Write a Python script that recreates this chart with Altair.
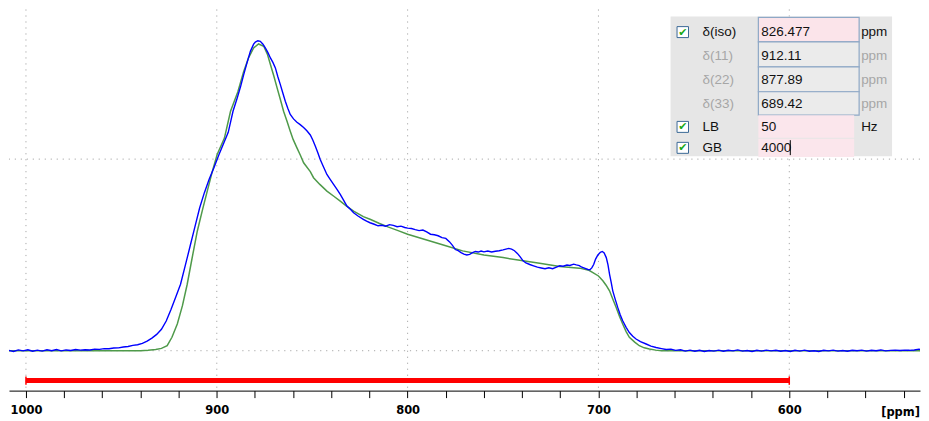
import altair as alt
import pandas as pd

# ---------------- data ----------------
blue_ppm = [1009.0, 1006.5, 1004.0, 1001.5, 999.0, 996.5, 994.0, 991.5, 989.0, 986.5, 984.0, 981.5,
            979.0, 976.5, 974.0, 971.5, 969.0, 966.5, 964.0, 961.5, 959.0, 956.5, 954.0, 951.5,
            949.0, 946.5, 944.0, 941.5, 939.0, 936.5, 934.0, 931.5, 929.0, 926.5, 924.0, 921.5,
            919.0, 916.5, 914.0, 911.5, 909.0, 906.5, 904.0, 901.5, 899.0, 896.5, 894.0, 891.5,
            889.3, 887.5, 885.9, 884.1, 882.4, 880.7, 879.8, 878.5, 877.2, 875.8, 874.5, 873.2,
            871.9, 870.6, 869.3, 868.0, 866.7, 865.4, 864.1, 862.8, 861.5, 859.8, 858.0, 856.3,
            854.5, 852.8, 851.0, 849.7, 848.4, 847.1, 845.8, 844.0, 842.3, 840.5, 838.8, 837.0,
            835.3, 833.5, 831.8, 830.0, 828.3, 826.0, 823.2, 821.5, 819.7, 817.5, 815.5, 813.5,
            811.5, 809.5, 807.5, 805.5, 803.5, 801.5, 800.0, 798.0, 796.0, 794.0, 792.0, 790.0,
            788.0, 786.0, 784.0, 782.0, 780.0, 778.0, 776.5, 775.0, 773.5, 772.0, 770.5, 769.0,
            767.5, 766.0, 764.5, 763.0, 761.5, 760.0, 758.0, 756.0, 754.0, 752.0, 750.0, 748.5,
            747.0, 745.5, 744.0, 742.5, 741.0, 739.5, 738.0, 736.0, 734.0, 732.0, 730.0, 728.0,
            726.0, 724.0, 722.0, 720.3, 718.5, 716.5, 715.0, 713.0, 711.6, 710.0, 709.0, 707.0,
            705.5, 704.5, 703.5, 702.5, 701.5, 700.3, 699.0, 698.0, 697.0, 695.9, 695.0, 694.2,
            693.3, 692.5, 691.2, 689.9, 688.6, 687.3, 685.5, 683.8, 682.0, 680.3, 678.0, 675.0,
            672.5, 669.8, 667.0, 664.5, 662.0, 659.5, 657.0, 654.5, 652.0, 649.5, 647.0, 644.5,
            642.0, 639.5, 637.0, 634.5, 632.0, 629.5, 627.0, 624.5, 622.0, 619.5, 617.0, 614.5,
            612.0, 609.5, 607.0, 604.5, 602.0, 599.5, 597.0, 594.5, 592.0, 589.5, 587.0, 584.5,
            582.0, 579.5, 577.0, 574.5, 572.0, 569.5, 567.0, 564.5, 562.0, 559.5, 557.0, 554.5,
            552.0, 549.5, 547.0, 544.5, 542.0, 539.5, 537.0, 534.5, 532.0, 529.5, 527.0]
blue_int = [0.002, -0.004, 0.004, -0.001, 0.005, -0.003, 0.003, -0.002, 0.005, 0.000, 0.006, -0.001,
            0.004, 0.001, 0.006, 0.003, 0.005, 0.004, 0.008, 0.007, 0.011, 0.010, 0.014, 0.015,
            0.019, 0.022, 0.028, 0.031, 0.038, 0.050, 0.066, 0.085, 0.112, 0.155, 0.215, 0.280,
            0.347, 0.445, 0.545, 0.645, 0.745, 0.825, 0.895, 0.955, 1.020, 1.080, 1.140, 1.250,
            1.319, 1.380, 1.441, 1.505, 1.5625, 1.600, 1.611, 1.618, 1.615, 1.600, 1.580, 1.556,
            1.528, 1.505, 1.476, 1.430, 1.389, 1.345, 1.302, 1.265, 1.233, 1.210, 1.192, 1.180,
            1.165, 1.148, 1.126, 1.100, 1.068, 1.035, 0.998, 0.958, 0.920, 0.893, 0.868, 0.842,
            0.816, 0.785, 0.755, 0.738, 0.720, 0.703, 0.686, 0.676, 0.668, 0.660, 0.652, 0.655,
            0.650, 0.658, 0.654, 0.647, 0.650, 0.643, 0.640, 0.638, 0.632, 0.627, 0.630, 0.620,
            0.608, 0.605, 0.600, 0.590, 0.586, 0.568, 0.550, 0.528, 0.522, 0.512, 0.504, 0.500,
            0.503, 0.512, 0.518, 0.515, 0.520, 0.516, 0.520, 0.515, 0.519, 0.522, 0.526, 0.530,
            0.534, 0.530, 0.522, 0.508, 0.490, 0.469, 0.458, 0.450, 0.443, 0.436, 0.432, 0.428,
            0.433, 0.428, 0.436, 0.443, 0.441, 0.447, 0.445, 0.452, 0.448, 0.444, 0.437, 0.430,
            0.424, 0.422, 0.432, 0.450, 0.478, 0.500, 0.514, 0.518, 0.510, 0.486, 0.448, 0.400,
            0.355, 0.3125, 0.268, 0.226, 0.188, 0.156, 0.122, 0.095, 0.075, 0.061, 0.047, 0.035,
            0.024, 0.017, 0.011, 0.006, 0.008, 0.002, 0.005, -0.002, 0.003, -0.003, 0.002, -0.004,
            0.001, -0.002, 0.003, -0.003, 0.002, -0.001, 0.004, -0.002, 0.001, -0.004, 0.002, -0.002,
            0.003, -0.001, 0.002, -0.003, 0.001, -0.004, 0.002, -0.002, 0.003, -0.003, 0.000, -0.004,
            0.002, -0.001, 0.003, -0.002, 0.001, -0.003, 0.002, 0.000, 0.003, -0.002, 0.002, 0.000,
            0.004, -0.001, 0.002, 0.003, 0.001, 0.003, 0.002, 0.004, 0.008, 0.003, 0.000]

green_ppm = [1009.0, 940.0, 936.0, 932.0, 929.0, 926.0, 923.5, 920.7, 918.0, 915.5, 913.0, 910.2,
             907.5, 905.0, 902.5, 899.8, 896.0, 892.8, 889.0, 885.9, 883.3, 880.7, 878.1, 875.4,
             873.5, 871.9, 870.0, 868.4, 866.5, 865.0, 863.2, 861.5, 860.0, 858.0, 856.2, 854.5,
             851.0, 849.3, 846.0, 842.3, 838.5, 835.3, 832.0, 828.3, 823.2, 819.7, 815.0, 810.0,
             805.0, 800.0, 790.0, 780.0, 771.2, 760.0, 750.0, 739.5, 730.0, 720.3, 709.9, 705.0,
             702.9, 700.0, 697.7, 696.0, 694.2, 692.5, 690.7, 689.0, 687.3, 685.5, 683.8, 681.0,
             678.6, 676.0, 673.3, 670.0, 667.0, 527.0]
green_int = [0.0, 0.0, 0.002, 0.006, 0.012, 0.026, 0.070, 0.139, 0.235, 0.347, 0.480, 0.625,
             0.735, 0.833, 0.930, 1.024, 1.110, 1.250, 1.350, 1.458, 1.530, 1.580, 1.601, 1.589,
             1.548, 1.494, 1.430, 1.372, 1.305, 1.250, 1.198, 1.146, 1.103, 1.059, 1.020, 0.981,
             0.935, 0.903, 0.868, 0.833, 0.805, 0.781, 0.755, 0.729, 0.700, 0.686, 0.665, 0.645,
             0.627, 0.608, 0.578, 0.548, 0.521, 0.500, 0.486, 0.469, 0.455, 0.440, 0.431, 0.420,
             0.408, 0.390, 0.365, 0.342, 0.3125, 0.270, 0.226, 0.180, 0.139, 0.100, 0.070, 0.045,
             0.026, 0.015, 0.009, 0.003, 0.0, 0.0]

grid_x = [1000, 900, 800, 700, 600]
grid_y = [0, 1]
bar_start, bar_end, bar_level = 1000, 600, -0.156
tick_values = [1000, 980, 960, 940, 920, 900, 880, 860, 840, 820, 800, 780, 760, 740, 720,
               700, 680, 660, 640, 620, 600, 580, 560, 540]

panel_labels = ["δ(iso)", "δ(11)", "δ(22)", "δ(33)", "LB", "GB"]
panel_values = ["826.477", "912.11", "877.89", "689.42", "50", "4000"]
panel_units = ["ppm", "ppm", "ppm", "ppm", "Hz", ""]
panel_enabled = [True, False, False, False, True, True]
panel_checked = [True, False, False, False, True, True]

# ---------------- layout ----------------
W, H = 913, 382
XDOM = [531.5, 1008.889]
YDOM = [-0.2083, 1.78125]
xs = alt.Scale(domain=XDOM, reverse=True, nice=False, zero=False)
ys = alt.Scale(domain=YDOM, nice=False, zero=False)

blue_df = pd.DataFrame({"ppm": blue_ppm, "I": blue_int})
green_df = pd.DataFrame({"ppm": green_ppm, "I": green_int})

xaxis = alt.Axis(values=tick_values, tickCount=60, title=None, grid=False,
                 labelExpr="datum.value % 100 === 0 ? datum.label : ''",
                 labelFont="DejaVu Sans", labelFontWeight="bold", labelFontSize=11.5,
                 labelColor="#000000", tickColor="#000000", domainColor="#000000",
                 tickSize=7, labelPadding=7, labelOverlap=False, format="d",
                 domainWidth=1, tickWidth=1)

blue = alt.Chart(blue_df).mark_line(color="#0000ff", strokeWidth=1.4, clip=True).encode(
    x=alt.X("ppm:Q", scale=xs, axis=xaxis),
    y=alt.Y("I:Q", scale=ys, axis=None),
    order=alt.Order("ppm:Q", sort="descending"),
)
green = alt.Chart(green_df).mark_line(color="#4f9a4a", strokeWidth=1.5, clip=True).encode(
    x=alt.X("ppm:Q", scale=xs, axis=xaxis),
    y=alt.Y("I:Q", scale=ys, axis=None),
    order=alt.Order("ppm:Q", sort="descending"),
)

vgrid = alt.Chart(pd.DataFrame({"ppm": grid_x})).mark_rule(
    color="#a8a8a8", strokeDash=[1.2, 4.8], strokeWidth=1).encode(
    x=alt.X("ppm:Q", scale=xs, axis=xaxis))
hgrid = alt.Chart(pd.DataFrame({"I": grid_y})).mark_rule(
    color="#a8a8a8", strokeDash=[1.2, 4.8], strokeWidth=1).encode(
    y=alt.Y("I:Q", scale=ys, axis=None))

bar_df = pd.DataFrame({"ppm": [bar_start], "ppm2": [bar_end], "I": [bar_level]})
redbar = alt.Chart(bar_df).mark_rule(color="#ff0000", strokeWidth=5).encode(
    x=alt.X("ppm:Q", scale=xs, axis=xaxis), x2="ppm2:Q", y=alt.Y("I:Q", scale=ys, axis=None))
cap_df = pd.DataFrame({"ppm": [bar_start, bar_end], "I": [bar_level - 0.022] * 2,
                       "I2": [bar_level + 0.022] * 2})
caps = alt.Chart(cap_df).mark_rule(color="#ff0000", strokeWidth=1.5).encode(
    x=alt.X("ppm:Q", scale=xs, axis=xaxis), y=alt.Y("I:Q", scale=ys, axis=None), y2="I2:Q")

one = pd.DataFrame({"k": [0]})


def rect(x1, x2, y1, y2, fill, stroke=None, sw=1):
    kw = dict(fill=fill)
    if stroke:
        kw.update(stroke=stroke, strokeWidth=sw)
    return alt.Chart(one).mark_rect(**kw).encode(
        x=alt.value(x1), x2=alt.value(x2), y=alt.value(y1), y2=alt.value(y2))


def text(x, y, s, color="#111111", size=13.5, align="left", weight="normal", font="Liberation Sans"):
    return alt.Chart(one).mark_text(align=align, baseline="middle", fontSize=size, font=font,
                                    fontWeight=weight, color=color).encode(
        x=alt.value(x), y=alt.value(y), text=alt.value(s))


deco = []
# panel background
deco.append(rect(663, 885, 7, 147, "#e6e6e6"))
row_bounds = [8, 32.5, 57.5, 82.5, 106]
deco.append(rect(751, 852, row_bounds[0], row_bounds[1], "#fbe4ea", "#8ea8c6", 1.2))
for i in range(1, 4):
    deco.append(rect(751, 852, row_bounds[i], row_bounds[i + 1], "#ebebeb", "#8ea8c6", 1.2))
deco.append(rect(751, 847, 106, 128.5, "#fbe6ec"))
deco.append(rect(751, 847, 129.5, 148, "#fbe6ec"))
row_y = [22.7, 47, 71, 95, 117.7, 138.7]
for i, lab in enumerate(panel_labels):
    col = "#111111" if panel_enabled[i] else "#a6a6a6"
    if panel_checked[i]:
        deco.append(rect(669.5, 681, row_y[i] - 5.5, row_y[i] + 5.5, "#ffffff", "#3a6896", 1))
        deco.append(text(675.3, row_y[i] + 0.5, "✔", color="#16a816", size=11, align="center",
                         font="DejaVu Sans"))
    deco.append(text(695, row_y[i], lab, color=col))
    deco.append(text(754, row_y[i], panel_values[i], color="#111111"))
    if panel_units[i]:
        deco.append(text(854, row_y[i], panel_units[i], color=col))
# text cursor
deco.append(alt.Chart(one).mark_rule(color="#000000", strokeWidth=1).encode(
    x=alt.value(783), y=alt.value(131), y2=alt.value(146)))
# axis unit label
deco.append(text(913, H + 22, "[ppm]", color="#000000", size=11.5, align="right",
                 weight="bold", font="DejaVu Sans"))

chart = alt.layer(vgrid, hgrid, redbar, caps, green, blue, *deco).properties(
    width=W, height=H, padding=0
).configure_view(stroke=None).configure_axis(grid=False)

chart.save("out.html", embed_options={"renderer": "svg", "actions": False})
